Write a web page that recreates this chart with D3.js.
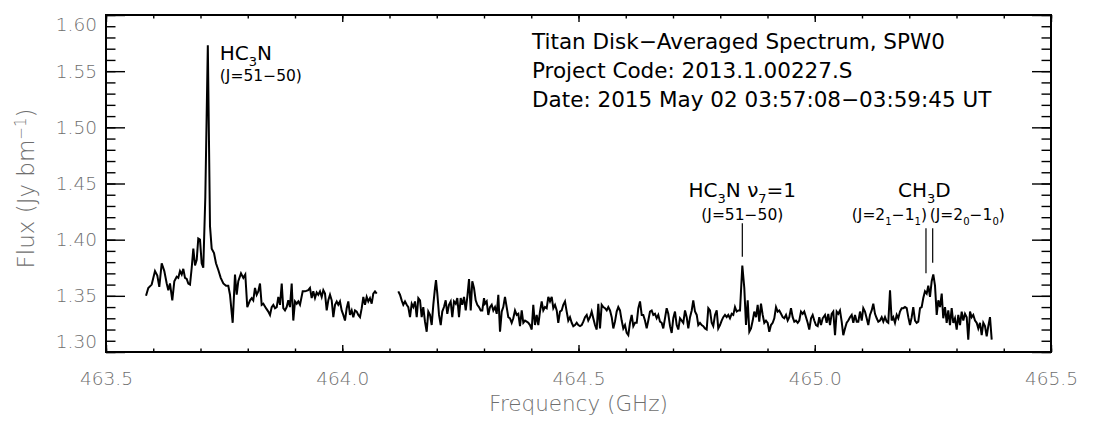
<!DOCTYPE html>
<html>
<head>
<meta charset="utf-8">
<script src="https://cdn.jsdelivr.net/npm/d3@7"></script>
<style>
  body { margin: 0; background: #fff; }
  svg text { font-family: "DejaVu Sans", sans-serif; }
  svg text.grey { font-weight: 200; }
</style>
</head>
<body>
<div id="chart"></div>
<script>
'use strict';

// spectrum, lower part of the window: [frequency GHz, flux Jy/beam]
const lowChunk = [
  [463.5847,1.350],[463.5895,1.357],[463.5967,1.360],[463.6037,1.372],[463.6086,1.368],
  [463.6128,1.358],[463.6179,1.379],[463.6234,1.372],[463.6285,1.361],[463.6319,1.355],
  [463.6354,1.361],[463.6403,1.346],[463.6446,1.363],[463.6496,1.367],[463.6530,1.366],
  [463.6566,1.372],[463.6602,1.369],[463.6636,1.374],[463.6672,1.366],[463.6708,1.365],
  [463.6742,1.361],[463.6778,1.360],[463.6814,1.375],[463.6848,1.392],[463.6884,1.377],
  [463.6920,1.382],[463.6953,1.401],[463.6989,1.400],[463.7025,1.379],[463.7059,1.375],
  [463.7102,1.438],[463.7155,1.573],[463.7201,1.412],[463.7237,1.392],[463.7286,1.388],
  [463.7328,1.379],[463.7377,1.373],[463.7428,1.366],[463.7483,1.361],[463.7540,1.359],
  [463.7588,1.359],[463.7624,1.351],[463.7681,1.326],[463.7730,1.369],[463.7766,1.351],
  [463.7800,1.363],[463.7857,1.370],[463.7906,1.366],[463.7948,1.369],[463.7990,1.340],
  [463.8048,1.346],[463.8084,1.348],[463.8117,1.346],[463.8153,1.357],[463.8189,1.351],
  [463.8223,1.354],[463.8259,1.361],[463.8295,1.342],[463.8329,1.343],[463.8386,1.339],
  [463.8435,1.336],[463.8471,1.333],[463.8507,1.340],[463.8541,1.342],[463.8577,1.339],
  [463.8613,1.340],[463.8647,1.349],[463.8683,1.342],[463.8719,1.361],[463.8752,1.339],
  [463.8788,1.337],[463.8824,1.340],[463.8858,1.346],[463.8894,1.340],[463.8930,1.361],
  [463.8964,1.328],[463.9000,1.345],[463.9036,1.343],[463.9070,1.345],[463.9106,1.342],
  [463.9163,1.354],[463.9212,1.354],[463.9281,1.355],[463.9317,1.357],[463.9353,1.348],
  [463.9387,1.354],[463.9423,1.348],[463.9459,1.353],[463.9493,1.351],[463.9529,1.354],
  [463.9565,1.349],[463.9599,1.355],[463.9635,1.352],[463.9671,1.337],[463.9705,1.346],
  [463.9741,1.351],[463.9777,1.346],[463.9811,1.331],[463.9847,1.342],[463.9883,1.345],
  [463.9916,1.342],[463.9952,1.345],[463.9988,1.337],[464.0022,1.333],[464.0058,1.328],
  [464.0094,1.339],[464.0128,1.345],[464.0164,1.333],[464.0200,1.337],[464.0234,1.331],
  [464.0270,1.337],[464.0306,1.336],[464.0340,1.333],[464.0376,1.331],[464.0412,1.339],
  [464.0446,1.349],[464.0481,1.342],[464.0517,1.349],[464.0551,1.345],[464.0587,1.348],
  [464.0623,1.343],[464.0657,1.352],[464.0693,1.354],[464.0729,1.352]
];

// spectrum, upper part of the window
const highChunk = [
  [464.1186,1.354],[464.1222,1.351],[464.1258,1.346],[464.1292,1.342],[464.1328,1.345],
  [464.1364,1.342],[464.1398,1.340],[464.1434,1.331],[464.1470,1.343],[464.1504,1.340],
  [464.1540,1.345],[464.1576,1.331],[464.1610,1.348],[464.1646,1.346],[464.1681,1.331],
  [464.1715,1.340],[464.1751,1.327],[464.1787,1.318],[464.1821,1.336],[464.1857,1.333],
  [464.1893,1.324],[464.1927,1.342],[464.1963,1.357],[464.1984,1.364],[464.2012,1.352],
  [464.2048,1.333],[464.2084,1.324],[464.2117,1.336],[464.2153,1.340],[464.2189,1.346],
  [464.2223,1.334],[464.2259,1.342],[464.2295,1.345],[464.2329,1.331],[464.2365,1.345],
  [464.2401,1.343],[464.2435,1.348],[464.2471,1.331],[464.2507,1.348],[464.2541,1.342],
  [464.2577,1.349],[464.2613,1.337],[464.2647,1.349],[464.2683,1.365],[464.2719,1.337],
  [464.2752,1.363],[464.2788,1.357],[464.2824,1.346],[464.2858,1.342],[464.2894,1.340],
  [464.2930,1.337],[464.2964,1.337],[464.3000,1.348],[464.3021,1.343],[464.3057,1.345],
  [464.3091,1.333],[464.3127,1.340],[464.3163,1.342],[464.3197,1.337],[464.3233,1.340],
  [464.3269,1.334],[464.3303,1.351],[464.3339,1.318],[464.3375,1.336],[464.3408,1.340],
  [464.3444,1.349],[464.3480,1.340],[464.3514,1.331],[464.3550,1.330],[464.3586,1.326],
  [464.3620,1.330],[464.3656,1.337],[464.3692,1.333],[464.3726,1.334],[464.3762,1.323],
  [464.3798,1.337],[464.3832,1.326],[464.3868,1.328],[464.3904,1.327],[464.3938,1.326],
  [464.3974,1.324],[464.4010,1.320],[464.4043,1.342],[464.4079,1.324],[464.4115,1.333],
  [464.4149,1.324],[464.4185,1.336],[464.4221,1.345],[464.4255,1.337],[464.4291,1.340],
  [464.4327,1.339],[464.4361,1.349],[464.4397,1.345],[464.4433,1.349],[464.4467,1.339],
  [464.4503,1.342],[464.4539,1.337],[464.4572,1.326],[464.4608,1.336],[464.4644,1.337],
  [464.4678,1.342],[464.4714,1.345],[464.4750,1.336],[464.4784,1.328],[464.4820,1.331],
  [464.4856,1.326],[464.4890,1.323],[464.4926,1.324],[464.4962,1.326],[464.4996,1.324],
  [464.5032,1.323],[464.5068,1.324],[464.5102,1.327],[464.5138,1.331],[464.5174,1.333],
  [464.5207,1.328],[464.5243,1.331],[464.5279,1.336],[464.5313,1.330],[464.5349,1.324],
  [464.5385,1.320],[464.5419,1.343],[464.5455,1.321],[464.5491,1.342],[464.5525,1.340],
  [464.5561,1.339],[464.5597,1.337],[464.5631,1.340],[464.5667,1.337],[464.5703,1.331],
  [464.5737,1.321],[464.5772,1.327],[464.5808,1.336],[464.5842,1.340],[464.5878,1.337],
  [464.5914,1.328],[464.5948,1.321],[464.5984,1.324],[464.6020,1.317],[464.6054,1.315],
  [464.6090,1.326],[464.6126,1.333],[464.6160,1.323],[464.6196,1.326],[464.6232,1.326],
  [464.6266,1.339],[464.6302,1.345],[464.6338,1.333],[464.6371,1.333],[464.6407,1.328],
  [464.6443,1.321],[464.6477,1.328],[464.6513,1.336],[464.6549,1.337],[464.6583,1.333],
  [464.6619,1.334],[464.6655,1.330],[464.6689,1.333],[464.6725,1.327],[464.6760,1.326],
  [464.6794,1.321],[464.6830,1.330],[464.6866,1.339],[464.6900,1.334],[464.6937,1.323],
  [464.6972,1.317],[464.7006,1.330],[464.7042,1.336],[464.7078,1.324],[464.7112,1.320],
  [464.7148,1.330],[464.7184,1.328],[464.7218,1.326],[464.7254,1.337],[464.7290,1.331],
  [464.7324,1.321],[464.7360,1.331],[464.7396,1.337],[464.7429,1.346],[464.7466,1.336],
  [464.7502,1.333],[464.7535,1.324],[464.7571,1.326],[464.7607,1.324],[464.7641,1.323],
  [464.7677,1.321],[464.7713,1.320],[464.7747,1.339],[464.7783,1.337],[464.7819,1.326],
  [464.7852,1.323],[464.7889,1.333],[464.7925,1.337],[464.7958,1.321],[464.7995,1.324],
  [464.8030,1.328],[464.8064,1.331],[464.8100,1.333],[464.8136,1.331],[464.8170,1.333],
  [464.8206,1.330],[464.8242,1.334],[464.8276,1.333],[464.8312,1.340],[464.8348,1.336],
  [464.8382,1.337],[464.8418,1.337],[464.8467,1.377],[464.8509,1.357],[464.8545,1.324],
  [464.8581,1.346],[464.8615,1.318],[464.8651,1.321],[464.8687,1.328],[464.8720,1.336],
  [464.8757,1.331],[464.8792,1.342],[464.8826,1.327],[464.8862,1.343],[464.8898,1.333],
  [464.8932,1.326],[464.8968,1.328],[464.9004,1.326],[464.9038,1.318],[464.9074,1.324],
  [464.9110,1.326],[464.9144,1.330],[464.9180,1.340],[464.9216,1.336],[464.9249,1.337],
  [464.9286,1.334],[464.9322,1.331],[464.9355,1.330],[464.9392,1.333],[464.9427,1.328],
  [464.9461,1.331],[464.9497,1.339],[464.9533,1.331],[464.9567,1.327],[464.9603,1.328],
  [464.9639,1.326],[464.9673,1.328],[464.9709,1.336],[464.9745,1.334],[464.9778,1.336],
  [464.9815,1.331],[464.9850,1.326],[464.9884,1.320],[464.9921,1.330],[464.9956,1.333],
  [464.9990,1.328],[465.0026,1.324],[465.0062,1.323],[465.0096,1.331],[465.0132,1.324],
  [465.0168,1.330],[465.0217,1.333],[465.0252,1.326],[465.0286,1.334],[465.0323,1.324],
  [465.0358,1.334],[465.0392,1.336],[465.0429,1.315],[465.0464,1.336],[465.0498,1.334],
  [465.0534,1.337],[465.0570,1.327],[465.0604,1.315],[465.0640,1.321],[465.0676,1.326],
  [465.0710,1.328],[465.0746,1.331],[465.0782,1.333],[465.0816,1.326],[465.0852,1.333],
  [465.0888,1.327],[465.0922,1.327],[465.0958,1.336],[465.0994,1.328],[465.1027,1.339],
  [465.1063,1.336],[465.1099,1.330],[465.1133,1.324],[465.1169,1.333],[465.1205,1.337],
  [465.1239,1.343],[465.1275,1.334],[465.1311,1.330],[465.1345,1.327],[465.1381,1.328],
  [465.1417,1.331],[465.1451,1.327],[465.1487,1.331],[465.1523,1.327],[465.1556,1.326],
  [465.1593,1.355],[465.1628,1.328],[465.1662,1.331],[465.1698,1.326],[465.1734,1.333],
  [465.1768,1.330],[465.1804,1.336],[465.1840,1.339],[465.1874,1.339],[465.1910,1.340],
  [465.1946,1.339],[465.1980,1.331],[465.2016,1.324],[465.2052,1.331],[465.2085,1.340],
  [465.2122,1.328],[465.2157,1.326],[465.2191,1.327],[465.2228,1.339],[465.2263,1.340],
  [465.2297,1.348],[465.2333,1.354],[465.2369,1.352],[465.2403,1.359],[465.2439,1.349],
  [465.2475,1.363],[465.2509,1.369],[465.2545,1.359],[465.2581,1.333],[465.2615,1.346],
  [465.2651,1.340],[465.2687,1.352],[465.2720,1.330],[465.2757,1.340],[465.2792,1.326],
  [465.2826,1.337],[465.2862,1.324],[465.2898,1.339],[465.2932,1.326],[465.2968,1.330],
  [465.3004,1.320],[465.3038,1.333],[465.3074,1.324],[465.3110,1.336],[465.3144,1.328],
  [465.3180,1.334],[465.3216,1.331],[465.3249,1.311],[465.3286,1.336],[465.3321,1.331],
  [465.3355,1.333],[465.3392,1.328],[465.3427,1.326],[465.3461,1.321],[465.3497,1.326],
  [465.3533,1.315],[465.3567,1.326],[465.3603,1.323],[465.3639,1.314],[465.3673,1.323],
  [465.3709,1.331],[465.3745,1.311]
];

const xTicks = [463.5, 464.0, 464.5, 465.0, 465.5];
const yTicks = [1.30, 1.35, 1.40, 1.45, 1.50, 1.55, 1.60];

const titleLines = [
  'Titan Disk\u2212Averaged Spectrum, SPW0',
  'Project Code: 2013.1.00227.S',
  'Date: 2015 May 02 03:57:08\u221203:59:45 UT'
];

// line markers: frequency and the flux range of the little vertical bar
const markers = [
  {freq: 464.8467, top: 1.4146, bottom: 1.3848},
  {freq: 465.2354, top: 1.4101, bottom: 1.3701},
  {freq: 465.2496, top: 1.4101, bottom: 1.3795}
];
const peakFreq = 463.7155;
const peakFlux = 1.573;

const svgWidth = 1095, svgHeight = 425;
const padding = {top: 15, right: 44, bottom: 73, left: 106};
const width = svgWidth - padding.left - padding.right;
const height = svgHeight - padding.top - padding.bottom;
const grey = '#6e6e6e';

const svg = d3.select('#chart')
              .append('svg')
                .attr('width', svgWidth)
                .attr('height', svgHeight)
                .style('background', '#fff');
const g = svg.append('g')
             .attr('transform', `translate(${padding.left}, ${padding.top})`);

const x = d3.scaleLinear().domain([463.5, 465.5]).range([0, width]);
const y = d3.scaleLinear().domain([1.30, 1.60]).range([height, 0]);

// ticks on all four sides, pointing inward (idl style)
const xMinor = x.ticks(20);
const yMinor = y.ticks(30);
function tickAxis(axis, transform) {
  const a = g.append('g').attr('transform', transform).call(axis);
  a.select('.domain').remove();
  a.selectAll('line').attr('stroke', '#000').attr('stroke-width', 1.4);
  return a;
}
tickAxis(d3.axisBottom(x).tickValues(xMinor).tickSize(-3.5).tickFormat(''), `translate(0,${height})`);
tickAxis(d3.axisTop(x).tickValues(xMinor).tickSize(-3.5).tickFormat(''), 'translate(0,0)');
tickAxis(d3.axisLeft(y).tickValues(yMinor).tickSize(-9.5).tickFormat(''), 'translate(0,0)');
tickAxis(d3.axisRight(y).tickValues(yMinor).tickSize(-9.5).tickFormat(''), `translate(${width},0)`);
tickAxis(d3.axisTop(x).tickValues(xTicks).tickSize(-7).tickFormat(''), 'translate(0,0)');
tickAxis(d3.axisRight(y).tickValues(yTicks).tickSize(-19).tickFormat(''), `translate(${width},0)`);

const xAxis = tickAxis(d3.axisBottom(x).tickValues(xTicks).tickSize(-7).tickPadding(20)
                         .tickFormat(d3.format('.1f')), `translate(0,${height})`);
const yAxis = tickAxis(d3.axisLeft(y).tickValues(yTicks).tickSize(-19).tickPadding(9)
                         .tickFormat(d3.format('.2f')), 'translate(0,0)');
[xAxis, yAxis].forEach(a => a.selectAll('text')
  .attr('class', 'grey')
  .attr('fill', grey).style('font-size', '18.5px')
  .style('font-family', '"DejaVu Sans", sans-serif'));
// first and last y labels sit a bit inside the frame
yAxis.selectAll('text').attr('y', d => d === 1.60 ? 10 : d === 1.30 ? -10 : 0);

// frame
g.append('rect')
 .attr('width', width).attr('height', height)
 .attr('fill', 'none').attr('stroke', '#000').attr('stroke-width', 2);

// spectrum
const line = d3.line().x(d => x(d[0])).y(d => y(d[1]));
g.selectAll('path.spec')
 .data([lowChunk, highChunk])
 .enter()
 .append('path')
   .attr('class', 'spec')
   .attr('d', line)
   .attr('fill', 'none')
   .attr('stroke', '#000')
   .attr('stroke-width', 2)
   .attr('stroke-linejoin', 'miter');

// marker bars
g.selectAll('line.marker')
 .data(markers)
 .enter()
 .append('line')
   .attr('class', 'marker')
   .attr('x1', d => x(d.freq)).attr('x2', d => x(d.freq))
   .attr('y1', d => y(d.top)).attr('y2', d => y(d.bottom))
   .attr('stroke', '#000').attr('stroke-width', 1.2);

// text with sub/superscripts: parts = [[string, 'sub'|'sup'|null], ...]
function richText(parent, parts, size) {
  const t = parent.append('text').style('font-size', size + 'px').attr('fill', '#000');
  let shift = 0;
  parts.forEach(([str, kind]) => {
    const target = kind === 'sub' ? size * 0.3 : kind === 'sup' ? -size * 0.45 : 0;
    t.append('tspan')
     .attr('dy', target - shift)
     .style('font-size', kind ? (size * 0.65) + 'px' : null)
     .text(str);
    shift = target;
  });
  return t;
}

// HC3N main line
const px = x(peakFreq) + 12, py = y(peakFlux);
richText(g, [['HC'], ['3', 'sub'], ['N']], 20).attr('x', px).attr('y', py + 15);
richText(g, [['(J=51\u221250)']], 15.5).attr('x', px).attr('y', py + 36);

// HC3N v7=1
const vx = x(markers[0].freq);
richText(g, [['HC'], ['3', 'sub'], ['N  \u03bd'], ['7', 'sub'], ['=1']], 20)
  .attr('x', vx).attr('y', 182).attr('text-anchor', 'middle');
richText(g, [['(J=51\u221250)']], 15.5)
  .attr('x', vx).attr('y', 205).attr('text-anchor', 'middle');

// CH3D pair
const ax = x(markers[1].freq), bx = x(markers[2].freq);
richText(g, [['CH'], ['3', 'sub'], ['D']], 20)
  .attr('x', (ax + bx) / 2 - 5).attr('y', 182).attr('text-anchor', 'middle');
richText(g, [['(J=2'], ['1', 'sub'], ['\u22121'], ['1', 'sub'], [')']], 15.5)
  .attr('x', ax + 1).attr('y', 205).attr('text-anchor', 'end');
richText(g, [['(J=2'], ['0', 'sub'], ['\u22121'], ['0', 'sub'], [')']], 15.5)
  .attr('x', bx - 3).attr('y', 205);

// observation info
g.selectAll('text.info')
 .data(titleLines)
 .enter()
 .append('text')
   .attr('class', 'info')
   .attr('x', 426)
   .attr('y', (d, i) => 34 + i * 29)
   .style('font-size', '21.5px')
   .attr('fill', '#000')
   .text(d => d);

// axis titles
g.append('text')
 .attr('class', 'grey')
 .attr('x', width / 2).attr('y', height + 59)
 .attr('text-anchor', 'middle')
 .style('font-size', '21.5px')
 .attr('fill', grey)
 .text('Frequency (GHz)');

const yTitle = g.append('text')
                .attr('class', 'grey')
                .attr('transform', `translate(-72, ${height / 2 + 5}) rotate(-90)`)
                .attr('text-anchor', 'middle')
                .style('font-size', '23px')
                .attr('fill', grey);
yTitle.append('tspan').text('Flux (Jy bm');
yTitle.append('tspan').attr('dy', -8).style('font-size', '15px').text('\u22121');
yTitle.append('tspan').attr('dy', 8).text(')');
</script>
</body>
</html>
